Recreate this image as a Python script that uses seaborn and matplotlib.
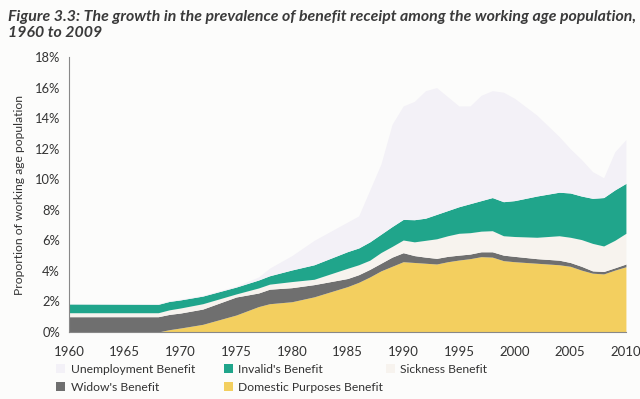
import numpy as np
import pandas as pd
import matplotlib
matplotlib.use("Agg")
import matplotlib.pyplot as plt
from matplotlib.patches import Patch
import seaborn as sns

# Years (knots where the outline changes direction)
years = [1960, 1968, 1969, 1970, 1972, 1975, 1977, 1978, 1980, 1982, 1985,
         1986, 1987, 1988, 1989, 1990, 1991, 1992, 1993, 1994, 1995, 1996,
         1997, 1998, 1999, 2000, 2002, 2004, 2005, 2006, 2007, 2008, 2009, 2010]

# Per-benefit shares of the working age population (%), bottom of stack first
domestic_purposes = [0.00, 0.00, 0.15, 0.26, 0.50, 1.11, 1.66, 1.85, 1.98, 2.30, 2.97,
                     3.25, 3.60, 4.00, 4.30, 4.60, 4.55, 4.50, 4.45, 4.60, 4.71, 4.80,
                     4.93, 4.90, 4.67, 4.60, 4.50, 4.40, 4.30, 4.05, 3.85, 3.80, 4.05, 4.27]
widows = [1.00, 1.00, 1.00, 0.98, 1.00, 1.18, 0.89, 0.95, 0.92, 0.80, 0.53,
          0.50, 0.50, 0.50, 0.60, 0.59, 0.45, 0.40, 0.37, 0.35, 0.32, 0.30,
          0.32, 0.35, 0.36, 0.35, 0.30, 0.30, 0.25, 0.25, 0.15, 0.16, 0.15, 0.18]
sickness = [0.26, 0.26, 0.30, 0.33, 0.35, 0.20, 0.33, 0.33, 0.40, 0.35, 0.67,
            0.65, 0.60, 0.70, 0.70, 0.83, 0.90, 1.10, 1.28, 1.35, 1.43, 1.40,
            1.35, 1.38, 1.27, 1.30, 1.40, 1.60, 1.65, 1.75, 1.80, 1.67, 1.80, 2.01]
invalids = [0.57, 0.55, 0.55, 0.53, 0.50, 0.45, 0.52, 0.55, 0.76, 0.95, 1.09,
            1.10, 1.20, 1.20, 1.30, 1.35, 1.45, 1.45, 1.60, 1.65, 1.74, 1.90,
            2.00, 2.17, 2.23, 2.35, 2.70, 2.85, 2.90, 2.85, 2.95, 3.17, 3.30, 3.27]
unemployment = [0.02, 0.04, 0.05, 0.05, 0.05, 0.06, 0.20, 0.50, 0.94, 1.60, 1.94,
                2.10, 3.40, 4.60, 6.70, 7.43, 7.75, 8.35, 8.30, 7.45, 6.60, 6.40,
                6.90, 7.00, 7.17, 6.70, 5.30, 3.65, 2.90, 2.40, 1.75, 1.30, 2.50, 2.87]

labels = ["Domestic Purposes Benefit", "Widow's Benefit", "Sickness Benefit",
          "Invalid's Benefit", "Unemployment Benefit"]
colors = ["#f3cf5f", "#6f6f6f", "#f7f3ee", "#20a58b", "#f3f1f7"]

df = pd.DataFrame({
    "year": years,
    labels[0]: domestic_purposes,
    labels[1]: widows,
    labels[2]: sickness,
    labels[3]: invalids,
    labels[4]: unemployment,
})

sns.set_style("white")
plt.rcParams["font.family"] = ["Lato", "DejaVu Sans"]

fig = plt.figure(figsize=(6.4, 3.99), dpi=100)
fig.patch.set_facecolor("#fcfcfb")
ax = fig.add_axes([0.108, 0.168, 0.870, 0.689])
ax.set_facecolor("#fcfcfb")

ax.stackplot(df["year"], [df[l] / 100 for l in labels],
             colors=colors, labels=labels, linewidth=0)

ax.set_xlim(1960, 2010)
ax.set_ylim(0, 0.18)
ax.set_xticks(range(1960, 2011, 5))
ax.set_yticks(np.arange(0, 0.181, 0.02))
ax.yaxis.set_major_formatter(matplotlib.ticker.PercentFormatter(1.0, decimals=0))
ax.tick_params(axis="both", labelsize=9.3, colors="#333333", length=3,
               width=0.8, direction="out")
ax.tick_params(axis="x", pad=7, labelsize=9.5)
ax.tick_params(axis="both", color="#888888")
for side in ["top", "right"]:
    ax.spines[side].set_visible(False)
for side in ["left", "bottom"]:
    ax.spines[side].set_color("#888888")
    ax.spines[side].set_linewidth(0.8)

ax.set_ylabel("Proportion of working age population", fontsize=8.7,
              color="#333333", labelpad=7)

fig.text(0.012, 0.975,
         "Figure 3.3: The growth in the prevalence of benefit receipt among the working age population,\n1960 to 2009",
         ha="left", va="top", fontsize=11.4, fontweight="bold", fontstyle="italic",
         color="#3a3a3a", linespacing=1.15)

# legend follows Excel's reversed stack order, laid out in three columns
color_of = dict(zip(labels, colors))
legend_cols = [
    (0.088, ["Unemployment Benefit", "Widow's Benefit"]),
    (0.350, ["Invalid's Benefit", "Domestic Purposes Benefit"]),
    (0.603, ["Sickness Benefit"]),
]
for x0, names in legend_cols:
    handles = [Patch(facecolor=color_of[n], edgecolor="none") for n in names]
    leg = fig.legend(handles, names, loc="upper left", bbox_to_anchor=(x0, 0.088),
                     frameon=False, fontsize=8.7, handlelength=0.75, handleheight=0.75,
                     handletextpad=0.45, labelspacing=0.55, borderaxespad=0,
                     borderpad=0)
    for t in leg.get_texts():
        t.set_color("#333333")

fig.savefig("out.png", dpi=100, facecolor=fig.get_facecolor())
